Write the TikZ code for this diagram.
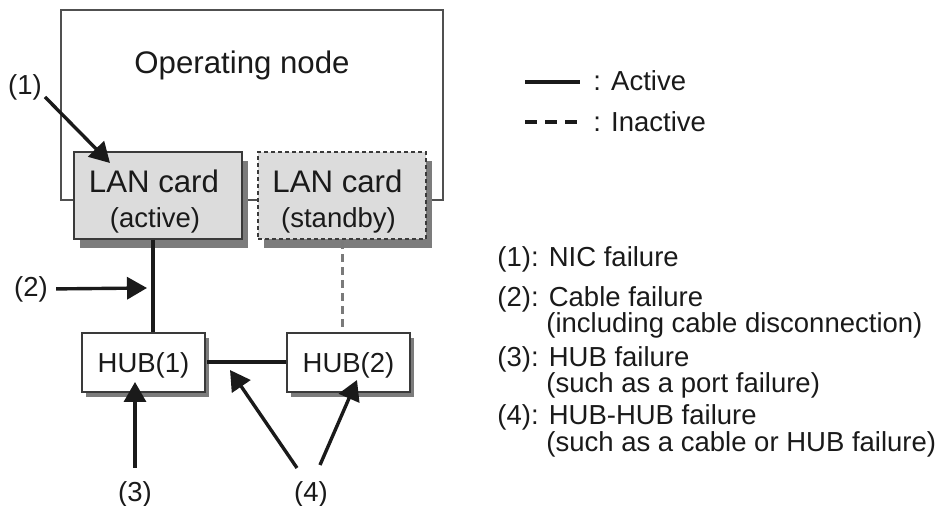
\documentclass[tikz,border=0pt]{standalone}
\usepackage{fontspec}
\setmainfont{Liberation Sans}
\usetikzlibrary{arrows.meta,shadows}

\definecolor{cardgray}{HTML}{DCDCDC}
\definecolor{edgegray}{HTML}{3A3A3A}
\definecolor{boxgray}{HTML}{505050}
\definecolor{shadegray}{HTML}{7C7C7C}
\definecolor{linkgray}{HTML}{7A7A7A}
\definecolor{inkblack}{HTML}{1A1A1A}

\tikzset{
  txt/.style={font=\fontsize{13.75}{16.5}\selectfont, text=inkblack, inner sep=0pt},
  bigtxt/.style={font=\fontsize{15.6}{18}\selectfont, text=inkblack, inner sep=0pt},
  opbox/.style={draw=boxgray, line width=1pt, minimum width=191pt, minimum height=95pt, inner sep=0pt},
  card/.style={draw=edgegray, line width=1pt, fill=cardgray, minimum width=84pt, minimum height=43.5pt, inner sep=0pt,
    drop shadow={shadow xshift=3pt, shadow yshift=-4.5pt, fill=shadegray, opacity=1}},
  sparecard/.style={card, dash pattern=on 2pt off 1.5pt},
  hub/.style={draw=edgegray, line width=1pt, fill=white, minimum width=61.5pt, minimum height=29.5pt, inner sep=0pt,
    txt, text height=9.7pt, text depth=0pt,
    drop shadow={shadow xshift=2pt, shadow yshift=-2.5pt, fill=shadegray, opacity=1}},
  active/.style={draw=inkblack, line width=1.8pt},
  inactive/.style={draw=linkgray, line width=1.5pt, dash pattern=on 4pt off 2.5pt},
  fault/.style={draw=inkblack, line width=1.7pt, -{Triangle[length=10pt, width=11pt]}}
}

\begin{document}
\begin{tikzpicture}[x=0.5pt, y=-0.5pt]
  \useasboundingbox (0, 0) rectangle (939, 506);
  %
  % operating node and its two LAN cards
  \node[opbox] (opnode) at (252, 105) {};
  \node[bigtxt, anchor=base] (optitle) at (242, 74) {Operating node};
  %
  \node[card] (lanA) at (158, 195.5) {};
  \node[sparecard] (lanS) at (342, 196) {};
  \node[bigtxt, anchor=base] (lanAname) at (154, 193) {LAN card};
  \node[txt, anchor=base] (lanArole) at (155, 228) {(active)};
  \node[bigtxt, anchor=base] (lanSname) at (337.5, 193) {LAN card};
  \node[txt, anchor=base] (lanSrole) at (338.5, 228) {(standby)};
  %
  % hubs
  \node[hub] (hub1) at (143.5, 362.5) {HUB(1)};
  \node[hub] (hub2) at (348.5, 362.5) {HUB(2)};
  %
  % cables
  \draw[active, line width=1.8pt] ([xshift=-2.5pt]lanA.south) -- ([xshift=-2.5pt]lanA.south |- hub1.north);
  \draw[inactive, line width=1.5pt] ([yshift=-0.5pt]lanS.south) -- (lanS.south |- hub2.north);
  \draw[active, line width=2pt] ([xshift=0.5pt]hub1.east) -- (hub2.west);
  %
  % failure points
  \node[txt] (f1) at (25, 87.5) {(1)};
  \node[txt] (f2) at (31, 289) {(2)};
  \node[txt] (f3) at (135, 494) {(3)};
  \node[txt] (f4) at (311, 494) {(4)};
  %
  \coordinate (tail1) at (45, 97);
  \coordinate (tip1) at (110, 163);
  \coordinate (tip2) at (147, 288);
  \coordinate (tip3) at (135, 382);
  \coordinate (tail4a) at (297, 468);
  \coordinate (tip4a) at (230, 370);
  \coordinate (tail4b) at (320, 465);
  \coordinate (tip4b) at (357, 380);
  %
  \draw[fault] (tail1) -- (tip1);
  \draw[fault, shorten <=4pt] (f2.east) -- (tip2);
  \draw[fault, shorten <=6.5pt] (f3.north) -- (tip3);
  \draw[fault] (tail4a) -- (tip4a);
  \draw[fault] (tail4b) -- (tip4b);
  %
  % legend
  \draw[active] (525, 82) -- (580, 82);
  \node[txt, anchor=base west] (legA) at (593, 90.5) {: Active};
  \draw[draw=inkblack, line width=1.8pt, dash pattern=on 6pt off 4pt] (525, 122) -- (580, 122);
  \node[txt, anchor=base west] (legI) at (593, 131.5) {: Inactive};
  %
  % notes
  \node[txt, anchor=base west] (n1) at (497, 267) {(1): NIC failure};
  \node[txt, anchor=base west] (n2) at (497, 307) {(2): Cable failure};
  \node[txt, anchor=base west] (n2b) at (546, 333) {(including cable disconnection)};
  \node[txt, anchor=base west] (n3) at (497, 367) {(3): HUB failure};
  \node[txt, anchor=base west] (n3b) at (546, 393) {(such as a port failure)};
  \node[txt, anchor=base west] (n4) at (497, 425) {(4): HUB-HUB failure};
  \node[txt, anchor=base west] (n4b) at (546, 452) {(such as a cable or HUB failure)};
\end{tikzpicture}
\end{document}
